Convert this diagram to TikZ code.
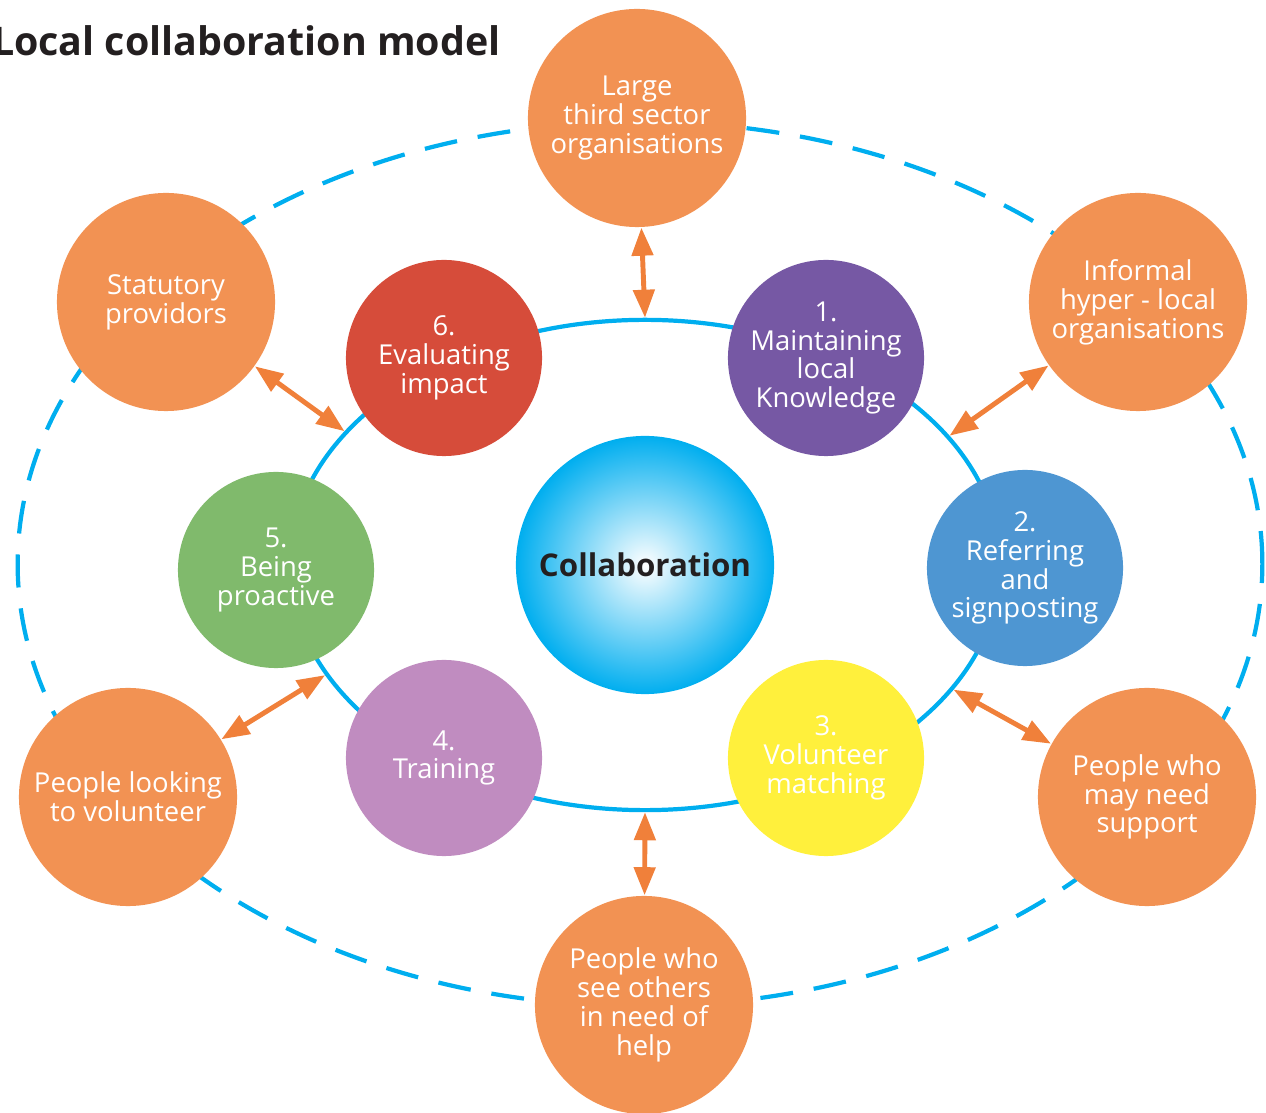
\documentclass[tikz,border=0pt]{standalone}
\usepackage{fontspec}
\setmainfont{Open Sans}
\usetikzlibrary{arrows.meta,shapes.geometric}
\definecolor{orng}{RGB}{242,146,83}
\definecolor{arrc}{RGB}{240,128,58}
\definecolor{redc}{RGB}{214,76,58}
\definecolor{purc}{RGB}{118,88,164}
\definecolor{grnc}{RGB}{128,186,108}
\definecolor{bluc}{RGB}{78,150,210}
\definecolor{lilc}{RGB}{192,140,192}
\definecolor{yelc}{RGB}{255,240,60}
\definecolor{cyac}{RGB}{0,174,239}
\definecolor{txtc}{RGB}{35,31,32}
\tikzset{
  every node/.style={font=\fontsize{7.8}{8.2}\selectfont\setlength{\lineskiplimit}{-5pt}},
  partner/.style={circle,fill=orng,minimum size=2.18cm,inner sep=0pt,text=white,align=center},
  task/.style={circle,minimum size=1.96cm,inner sep=0pt,text=white,align=center},
  link/.style={<->,draw=arrc,line width=1.4pt}
}

\begin{document}
\begin{tikzpicture}[x=0.01cm,y=-0.01cm,>={Triangle[length=2.8mm,width=2.1mm]}]
\useasboundingbox (0,0) rectangle (1266,1113);
% outer and inner rings
\draw [cyac,line width=1.2pt,dash pattern=on 0.33cm off 0.21cm] (640,564) ellipse [x radius=6.22cm,y radius=4.42cm];
\node (ring) [ellipse,draw=cyac,line width=1.2pt,minimum width=7.1cm,minimum height=4.9cm,inner sep=0pt] at (645,565) {};
% title
\node [anchor=base east,font=\fontsize{11.2}{12}\selectfont\bfseries,text=txtc] at (513,56) {Local collaboration model};
% centre
\node (collab) [circle,minimum size=2.58cm,inner sep=0pt,shading=radial,inner color=white,outer color=cyac,font=\fontsize{8.9}{10}\selectfont\bfseries,text=txtc] at (645,565) {Collaboration};
% six tasks
\node (maintain) [task,fill=purc] at (826,358) {1.\\Maintaining\\local\\Knowledge};
\node (refer) [task,fill=bluc] at (1025,568) {2.\\Referring\\and\\signposting};
\node (matching) [task,fill=yelc] at (826,758) {3.\\Volunteer\\matching};
\node (training) [task,fill=lilc] at (444,758) {4.\\Training};
\node (proactive) [task,fill=grnc] at (276,570) {5.\\Being\\proactive};
\node (evaluate) [task,fill=redc] at (444,358) {6.\\Evaluating\\impact};
% partners
\node (thirdsector) [partner] at (637,118) {Large\\third sector\\organisations};
\node (statutory) [partner] at (166,302) {Statutory\\providors};
\node (informal) [partner] at (1138,302) {Informal\\hyper - local\\organisations};
\node (volunteer) [partner] at (128,797) {People looking\\to volunteer};
\node (support) [partner] at (1147,797) {People who\\may need\\support};
\node (seeothers) [partner] at (644,1005) {People who\\see others\\in need of\\help};
% links to the ring
\draw [link] (thirdsector) -- (ring.90);
\draw [link] (statutory) -- (ring.156);
\draw [link] (informal) -- (ring.23);
\draw [link] (volunteer) -- (ring.199);
\draw [link] (support) -- (ring.338);
\draw [link] (seeothers) -- (ring.270);
\end{tikzpicture}
\end{document}
